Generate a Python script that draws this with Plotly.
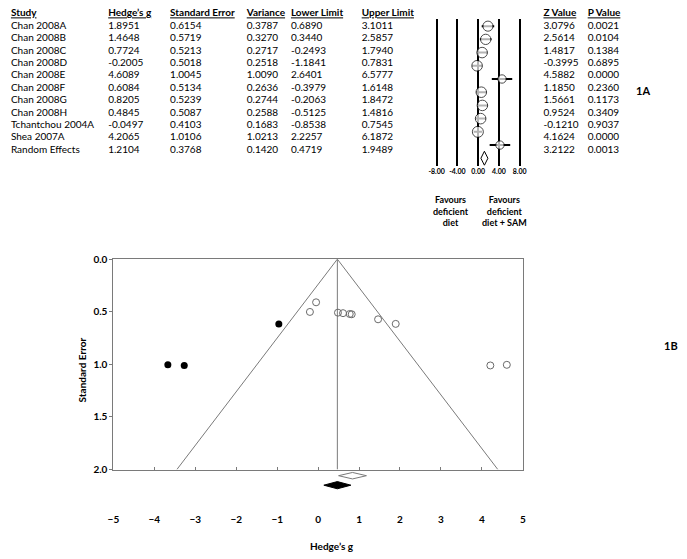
import math

import plotly.graph_objects as go

W, H = 687, 559
FONT = "Lato"

# ---- data ----
studies = ["Chan 2008A", "Chan 2008B", "Chan 2008C", "Chan 2008D", "Chan 2008E",
           "Chan 2008F", "Chan 2008G", "Chan 2008H", "Tchantchou 2004A", "Shea 2007A",
           "Random Effects"]
hedges_g = [1.8951, 1.4648, 0.7724, -0.2005, 4.6089, 0.6084, 0.8205, 0.4845, -0.0497, 4.2065, 1.2104]
std_err = [0.6154, 0.5719, 0.5213, 0.5018, 1.0045, 0.5134, 0.5239, 0.5087, 0.4103, 1.0106, 0.3768]
variance = [0.3787, 0.3270, 0.2717, 0.2518, 1.0090, 0.2636, 0.2744, 0.2588, 0.1683, 1.0213, 0.1420]
lower_limit = [0.6890, 0.3440, -0.2493, -1.1841, 2.6401, -0.3979, -0.2063, -0.5125, -0.8538, 2.2257, 0.4719]
upper_limit = [3.1011, 2.5857, 1.7940, 0.7831, 6.5777, 1.6148, 1.8472, 1.4816, 0.7545, 6.1872, 1.9489]
z_value = [3.0796, 2.5614, 1.4817, -0.3995, 4.5882, 1.1850, 1.5661, 0.9524, -0.1210, 4.1624, 3.2122]
p_value = [0.0021, 0.0104, 0.1384, 0.6895, 0.0000, 0.2360, 0.1173, 0.3409, 0.9037, 0.0000, 0.0013]

headers = ["Study", "Hedge’s g", "Standard Error", "Variance", "Lower Limit", "Upper Limit",
           "Z Value", "P Value"]

forest_ticks = [-8, -4, 0, 4, 8]
forest_ticktext = ["-8.00", "-4.00", "0.00", "4.00", "8.00"]
tau_squared = 1.0  # approx. between-study variance, only used for marker weights

# trim-and-fill imputed studies (filled dots in funnel)
imputed_g = [-3.67, -3.27, -0.96]
imputed_se = [1.0045, 1.0106, 0.6154]
# combined estimates shown as diamonds under the funnel
observed_est = [0.50, 0.84, 1.18]   # lower, point, upper
adjusted_est = [0.14, 0.47, 0.80]

funnel_xticks = [-5, -4, -3, -2, -1, 0, 1, 2, 3, 4, 5]
funnel_yticks = [0.0, 0.5, 1.0, 1.5, 2.0]
funnel_yticktext = ["0.0", "0.5", "1.0", "1.5", "2.0"]


def fx(p):
    return p / W


def fy(p):
    return 1 - p / H


fig = go.Figure()

# ---- table (x3/y3: x in px, y in rows) ----
col_x = [4, 103, 166, 244, 289, 361, 546, 591]
columns = [
    studies,
    [f"{v:.4f}" for v in hedges_g],
    [f"{v:.4f}" for v in std_err],
    [f"{v:.4f}" for v in variance],
    [f"{v:.4f}" for v in lower_limit],
    [f"{v:.4f}" for v in upper_limit],
    [f"{v:.4f}" for v in z_value],
    [f"{v:.4f}" for v in p_value],
]
rows = list(range(len(studies)))
for cx, head, col in zip(col_x, headers, columns):
    fig.add_trace(go.Scatter(
        x=[cx] * (len(col) + 1), y=[-1] + rows,
        text=[f"<b><u>{head}</u></b>"] + col,
        mode="text", textposition="middle right", marker=dict(size=0),
        textfont=dict(family=FONT, size=10, color="black"),
        hoverinfo="skip", showlegend=False, xaxis="x3", yaxis="y3",
    ))

# ---- forest plot (x4/y4) ----
n = len(studies) - 1
ci_x, ci_y = [], []
for lo, hi, r in zip(lower_limit[:n], upper_limit[:n], rows[:n]):
    ci_x += [lo, hi, None]
    ci_y += [r, r, None]
fig.add_trace(go.Scatter(
    x=ci_x, y=ci_y, mode="lines", line=dict(color="black", width=2),
    hoverinfo="skip", showlegend=False, xaxis="x4", yaxis="y4",
))
weights = [1 / (v + tau_squared) for v in variance[:n]]
sizes = [11 * math.sqrt(w / max(weights)) for w in weights]
fig.add_trace(go.Scatter(
    x=hedges_g[:n], y=rows[:n], mode="markers",
    marker=dict(symbol="circle", size=sizes, color="white", line=dict(color="black", width=1)),
    hoverinfo="skip", showlegend=False, xaxis="x4", yaxis="y4",
))
fig.add_trace(go.Scatter(
    x=[hedges_g[n]], y=[rows[n]], mode="markers",
    marker=dict(symbol="diamond-tall", size=10, color="white", line=dict(color="black", width=1)),
    hoverinfo="skip", showlegend=False, xaxis="x4", yaxis="y4",
))

# ---- funnel plot (x/y) ----
centre = adjusted_est[1]
se_max = funnel_yticks[-1]
fig.add_trace(go.Scatter(
    x=[centre - 1.96 * se_max, centre, centre + 1.96 * se_max], y=[se_max, 0, se_max],
    mode="lines", line=dict(color="#7a7a7a", width=1),
    hoverinfo="skip", showlegend=False,
))
fig.add_trace(go.Scatter(
    x=[centre, centre], y=[0, se_max], mode="lines", line=dict(color="#7a7a7a", width=1),
    hoverinfo="skip", showlegend=False,
))
fig.add_trace(go.Scatter(
    x=hedges_g[:n], y=std_err[:n], mode="markers",
    marker=dict(symbol="circle-open", size=7, color="#6a6a6a", line=dict(width=1)),
    hoverinfo="skip", showlegend=False,
))
fig.add_trace(go.Scatter(
    x=imputed_g, y=imputed_se, mode="markers",
    marker=dict(symbol="circle", size=7, color="black"),
    hoverinfo="skip", showlegend=False,
))


def diamond(est, row, half):
    lo, mid, hi = est
    return [lo, mid, hi, mid, lo], [row, row - half, row, row + half, row]


dx, dy = diamond(observed_est, 0, 0.34)
fig.add_trace(go.Scatter(
    x=dx, y=dy, mode="lines", fill="toself", fillcolor="white",
    line=dict(color="#7a7a7a", width=1), hoverinfo="skip", showlegend=False,
    xaxis="x2", yaxis="y2",
))
dx, dy = diamond(adjusted_est, 1, 0.38)
fig.add_trace(go.Scatter(
    x=dx, y=dy, mode="lines", fill="toself", fillcolor="black",
    line=dict(color="black", width=1), hoverinfo="skip", showlegend=False,
    xaxis="x2", yaxis="y2",
))

# ---- layout ----
funnel_dom_x = [fx(108.3), fx(525)]
fig.update_layout(
    width=W, height=H,
    margin=dict(l=0, r=0, t=0, b=0),
    paper_bgcolor="white",
    plot_bgcolor="rgba(0,0,0,0)",
    font=dict(family=FONT, color="black"),
    xaxis=dict(domain=funnel_dom_x, range=[-5, 5], anchor="y",
               showline=True, linecolor="#7a7a7a", linewidth=1, mirror=True,
               ticks="inside", ticklen=3, tickcolor="#7a7a7a",
               tickvals=funnel_xticks, showticklabels=False,
               showgrid=False, zeroline=False),
    yaxis=dict(domain=[fy(473.7), fy(258.7)], range=[2, 0], anchor="x",
               showline=True, linecolor="#7a7a7a", linewidth=1, mirror=True,
               ticks="outside", ticklen=3, tickcolor="#7a7a7a",
               tickvals=funnel_yticks, ticktext=funnel_yticktext,
               tickfont=dict(size=10, weight="bold"),
               showgrid=False, zeroline=False),
    xaxis2=dict(domain=funnel_dom_x, range=[-5, 5], anchor="y2",
                showline=False, ticks="", tickvals=funnel_xticks,
                tickfont=dict(size=10, weight="bold"),
                showgrid=False, zeroline=False),
    yaxis2=dict(domain=[fy(517), fy(475)], range=[3.814, -0.515], anchor="x2",
                visible=False),
    xaxis3=dict(domain=[0, 1], range=[0, W], anchor="y3", visible=False),
    yaxis3=dict(domain=[0, 1], range=[(H - 20.7) / 12.67, -20.7 / 12.67], anchor="x3",
                visible=False),
    xaxis4=dict(domain=[fx(435.7), fx(523.3)], range=[-8.3, 8.3], anchor="y4",
                showgrid=True, gridcolor="black", gridwidth=2,
                tickvals=forest_ticks, ticktext=forest_ticktext, tickangle=0,
                tickfont=dict(size=7, weight="bold"), ticks="",
                showline=False, zeroline=False),
    yaxis4=dict(domain=[fy(163.3), fy(13.3)], range=[10.57, -0.54], anchor="x4",
                visible=False),
)

bold9 = dict(family=FONT, size=9, color="black", weight="bold")
bold10 = dict(family=FONT, size=10, color="black", weight="bold")
labels = [
    (452, 209.5, "Favours<br>deficient<br>diet", bold9, 0),
    (506, 209.5, "Favours<br>deficient<br>diet + SAM", bold9, 0),
    (647, 86, "1A", dict(family=FONT, size=11, weight="bold"), 0),
    (676, 347, "1B", dict(family=FONT, size=11, weight="bold"), 0),
    (76, 371.7, "Standard Error", bold10, -90),
    (330.7, 552, "Hedge’s g", bold10, 0),
]
for x, y, txt, font, angle in labels:
    fig.add_annotation(x=fx(x), y=fy(y), xref="paper", yref="paper", text=txt,
                       xanchor="center", yanchor="middle", textangle=angle,
                       showarrow=False, font=font, align="center")

# drop the default page margin so the 687x559 figure fills the window exactly
fig.write_html("out.html", config={"displayModeBar": False},
               post_script="document.body.style.margin='0';")
